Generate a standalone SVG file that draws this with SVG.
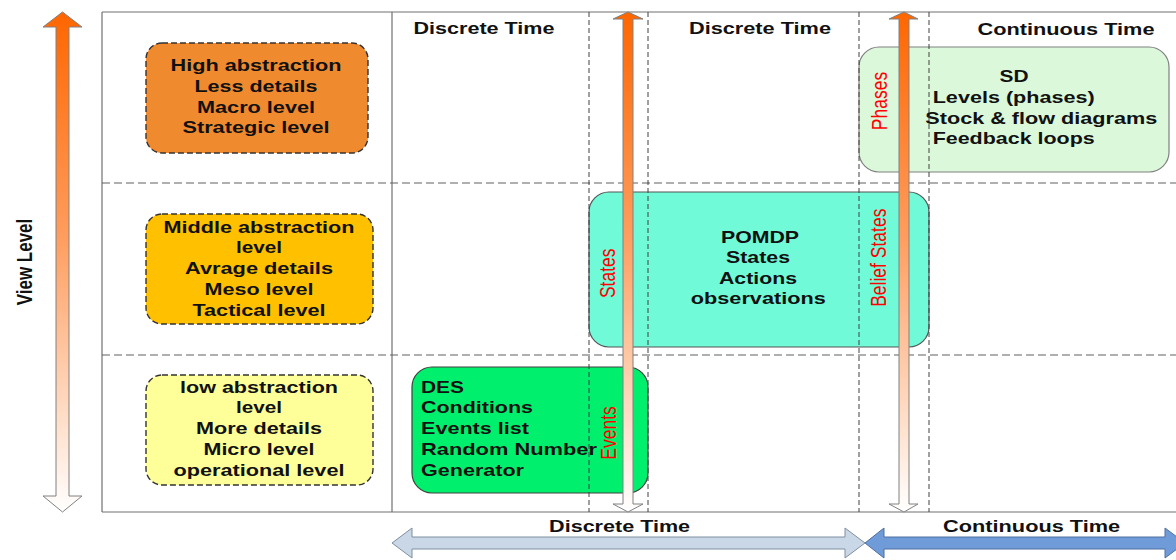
<svg xmlns="http://www.w3.org/2000/svg" width="1176" height="560" viewBox="0 0 1176 560">
<style>
.t{font-family:"Liberation Sans",Arial,sans-serif;font-weight:bold;font-size:17px;fill:#111}
.r{font-family:"Liberation Sans",Arial,sans-serif;font-size:17.5px;fill:#FF0000}
.grid{stroke:#707070;stroke-width:1.2;fill:none}
.hd{stroke:#606060;stroke-width:1.2;stroke-dasharray:8 4;fill:none}
.vd{stroke:#404040;stroke-width:1;stroke-dasharray:5 3;fill:none}
.lb{stroke:#333;stroke-width:1.4;stroke-dasharray:6 3}
</style>
<defs>
<linearGradient id="og" x1="0" y1="0" x2="0" y2="1">
<stop offset="0" stop-color="#FF6600"/>
<stop offset="0.45" stop-color="#FF9D5E"/>
<stop offset="1" stop-color="#FFFFFF"/>
</linearGradient>
</defs>
<rect width="1176" height="560" fill="#fff"/>
<g id="grid">
<line class="grid" x1="102" y1="12" x2="1176" y2="12"/>
<line class="grid" x1="102" y1="512" x2="1176" y2="512"/>
<line class="grid" x1="102" y1="12" x2="102" y2="512"/>
<line class="grid" x1="392" y1="12" x2="392" y2="512"/>
<line class="hd" x1="102" y1="183" x2="1176" y2="183"/>
<line class="hd" x1="102" y1="355" x2="1176" y2="355"/>
</g>
<g id="headers">
<text class="t" x="484" y="34" text-anchor="middle" textLength="141" lengthAdjust="spacingAndGlyphs">Discrete Time</text>
<text class="t" x="760" y="34" text-anchor="middle" textLength="142" lengthAdjust="spacingAndGlyphs">Discrete Time</text>
<text class="t" x="1066" y="35" text-anchor="middle" textLength="177" lengthAdjust="spacingAndGlyphs">Continuous Time</text>
</g>
<g id="high">
<rect class="lb" x="146" y="43" width="222" height="110" rx="16" fill="#F08A2E"/>
<text class="t" x="256" y="71" text-anchor="middle" textLength="171" lengthAdjust="spacingAndGlyphs">High abstraction</text>
<text class="t" x="256" y="91.7" text-anchor="middle" textLength="123" lengthAdjust="spacingAndGlyphs">Less details</text>
<text class="t" x="256" y="112.5" text-anchor="middle" textLength="118" lengthAdjust="spacingAndGlyphs">Macro level</text>
<text class="t" x="256" y="133.3" text-anchor="middle" textLength="147" lengthAdjust="spacingAndGlyphs">Strategic level</text>
</g>
<g id="middle">
<rect class="lb" x="146" y="214" width="227" height="110" rx="16" fill="#FFC000"/>
<text class="t" x="259" y="232.7" text-anchor="middle" textLength="191" lengthAdjust="spacingAndGlyphs">Middle abstraction</text>
<text class="t" x="259" y="253.3" text-anchor="middle" textLength="46" lengthAdjust="spacingAndGlyphs">level</text>
<text class="t" x="259" y="274.3" text-anchor="middle" textLength="148" lengthAdjust="spacingAndGlyphs">Avrage details</text>
<text class="t" x="259" y="295" text-anchor="middle" textLength="109" lengthAdjust="spacingAndGlyphs">Meso level</text>
<text class="t" x="259" y="315.7" text-anchor="middle" textLength="133" lengthAdjust="spacingAndGlyphs">Tactical level</text>
</g>
<g id="low">
<rect class="lb" x="146" y="375" width="227" height="110" rx="16" fill="#FFFF99"/>
<text class="t" x="259" y="392.7" text-anchor="middle" textLength="158" lengthAdjust="spacingAndGlyphs">low abstraction</text>
<text class="t" x="259" y="413.3" text-anchor="middle" textLength="46" lengthAdjust="spacingAndGlyphs">level</text>
<text class="t" x="259" y="434" text-anchor="middle" textLength="126" lengthAdjust="spacingAndGlyphs">More details</text>
<text class="t" x="259" y="455" text-anchor="middle" textLength="111" lengthAdjust="spacingAndGlyphs">Micro level</text>
<text class="t" x="259" y="475.7" text-anchor="middle" textLength="171" lengthAdjust="spacingAndGlyphs">operational level</text>
</g>
<g id="sd">
<rect x="859" y="47" width="310" height="125" rx="20" fill="#DCF8DA" stroke="#808080" stroke-width="1.2"/>
<text class="t" x="1014" y="82.3" text-anchor="middle" textLength="29" lengthAdjust="spacingAndGlyphs">SD</text>
<text class="t" x="932.7" y="103.3" textLength="162" lengthAdjust="spacingAndGlyphs">Levels (phases)</text>
<text class="t" x="925.3" y="124" textLength="232" lengthAdjust="spacingAndGlyphs">Stock &amp; flow diagrams</text>
<text class="t" x="932.7" y="144.3" textLength="162" lengthAdjust="spacingAndGlyphs">Feedback loops</text>
</g>
<g id="pomdp">
<rect x="589" y="192" width="340" height="155" rx="20" fill="#70FAD8" stroke="#555" stroke-width="1.2"/>
<text class="t" x="760" y="243.3" text-anchor="middle" textLength="78" lengthAdjust="spacingAndGlyphs">POMDP</text>
<text class="t" x="758" y="263.3" text-anchor="middle" textLength="64" lengthAdjust="spacingAndGlyphs">States</text>
<text class="t" x="758" y="284" text-anchor="middle" textLength="78" lengthAdjust="spacingAndGlyphs">Actions</text>
<text class="t" x="758.3" y="304.3" text-anchor="middle" textLength="135" lengthAdjust="spacingAndGlyphs">observations</text>
</g>
<g id="des">
<rect x="412" y="367" width="236" height="126" rx="20" fill="#00F06E" stroke="#404040" stroke-width="1.2"/>
<text class="t" x="421" y="392.7" textLength="43" lengthAdjust="spacingAndGlyphs">DES</text>
<text class="t" x="421" y="413.3" textLength="112" lengthAdjust="spacingAndGlyphs">Conditions</text>
<text class="t" x="421" y="434" textLength="108" lengthAdjust="spacingAndGlyphs">Events list</text>
<text class="t" x="421" y="455" textLength="176" lengthAdjust="spacingAndGlyphs">Random Number</text>
<text class="t" x="421" y="475.7" textLength="103" lengthAdjust="spacingAndGlyphs">Generator</text>
</g>
<g id="dashed-columns">
<line class="vd" x1="589" y1="12" x2="589" y2="512"/>
<line class="vd" x1="648" y1="12" x2="648" y2="512"/>
<line class="vd" x1="859" y1="12" x2="859" y2="512"/>
<line class="vd" x1="929" y1="12" x2="929" y2="512"/>
</g>
<g id="connectors">
<polygon points="62.5,12 82,27 69,27 69,496 82,496 62.5,512 43,496 56,496 56,27 43,27" fill="url(#og)" stroke="#808080" stroke-width="1"/>
<polygon points="628,12 643,19 633,19 633,504 643,504 628,512 613,504 623,504 623,19 613,19" fill="url(#og)" stroke="#808080" stroke-width="1"/>
<polygon points="904,12 918,19 909,19 909,504 918,504 904,512 889,504 899,504 899,19 889,19" fill="url(#og)" stroke="#808080" stroke-width="1"/>
<polygon points="392,543 412,528 412,537 845,537 845,528 865,543 845,558 845,549 412,549 412,558" fill="#C9D7E7" stroke="#7F8FA0" stroke-width="1"/>
<polygon points="865,543 884,528 884,537 1165,537 1165,528 1185,543 1165,558 1165,549 884,549 884,558" fill="#6F9CD8" stroke="#4F6F9F" stroke-width="1"/>
</g>
<g id="labels">
<text class="t" transform="translate(31.5,262) scale(1.3,1) rotate(-90)" text-anchor="middle">View Level</text>
<text class="r" transform="translate(614.5,273.3) scale(1.3,1) rotate(-90)" text-anchor="middle">States</text>
<text class="r" transform="translate(885.5,257.7) scale(1.3,1) rotate(-90)" text-anchor="middle">Belief States</text>
<text class="r" transform="translate(615.5,433) scale(1.3,1) rotate(-90)" text-anchor="middle">Events</text>
<text class="r" transform="translate(887,101) scale(1.3,1) rotate(-90)" text-anchor="middle">Phases</text>
<text class="t" x="619.6" y="531.7" text-anchor="middle" textLength="141" lengthAdjust="spacingAndGlyphs">Discrete Time</text>
<text class="t" x="1031.6" y="531.7" text-anchor="middle" textLength="177" lengthAdjust="spacingAndGlyphs">Continuous Time</text>
</g>
</svg>
